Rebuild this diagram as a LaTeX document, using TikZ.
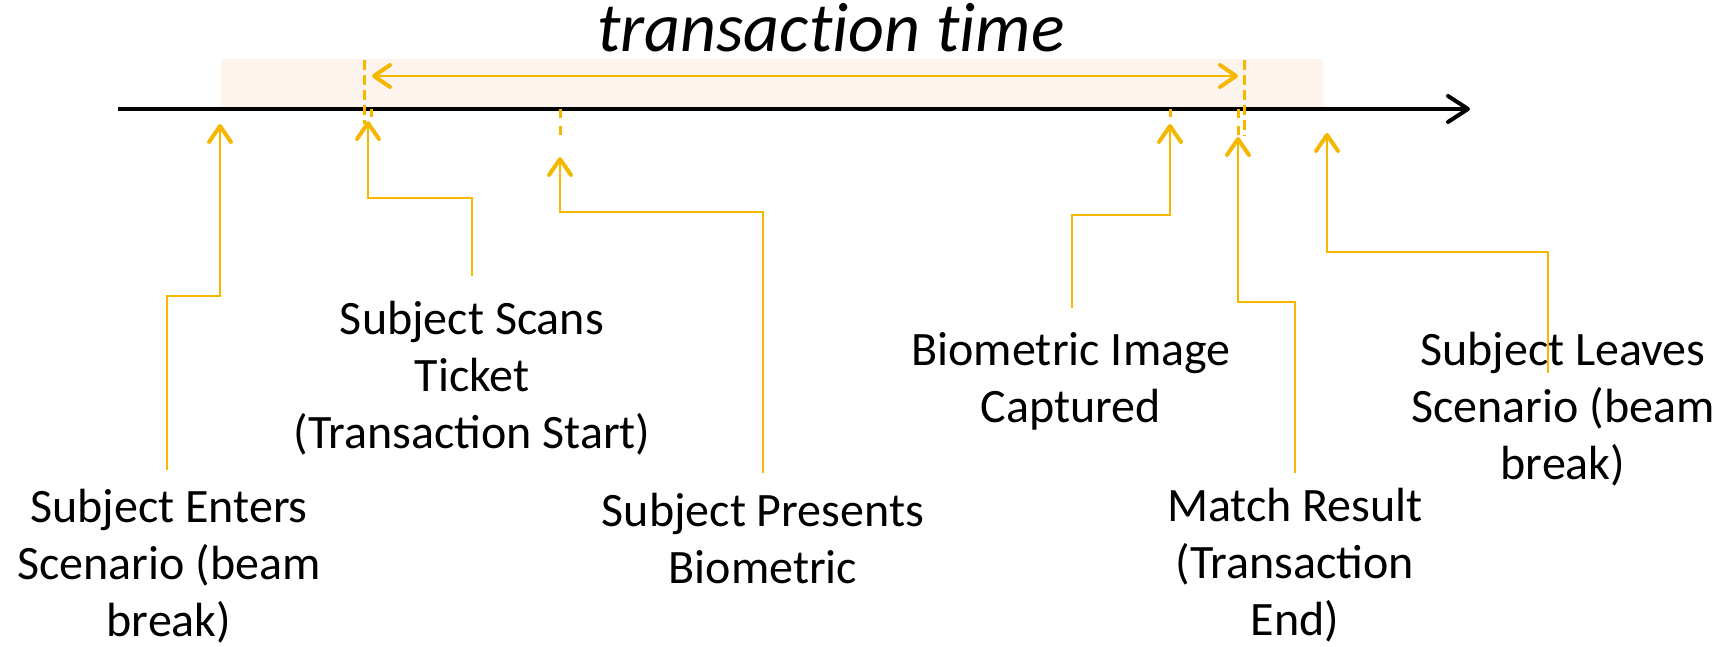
\documentclass[tikz,border=0pt]{standalone}
\usepackage{fontspec}
\setmainfont{Carlito}
\newfontfamily\titlefont{Carlito}[Ligatures=NoCommon]
\usetikzlibrary{arrows.meta}
\definecolor{gold}{RGB}{245,183,0}
\definecolor{peach}{RGB}{253,244,238}
\begin{document}
\begin{tikzpicture}[x=0.5pt,y=-0.5pt,
  conn/.style={draw=gold,line width=1pt,-{Straight Barb[length=8pt,width=11pt,line width=2pt,round]}},
  tick/.style={draw=gold,line width=1.5pt,dash pattern=on 4.5pt off 4pt},
  guide/.style={draw=gold,line width=1.5pt,dash pattern=on 5pt off 2.5pt},
  span/.style={draw=gold,line width=0.85pt,{Straight Barb[length=8pt,width=11pt,line width=2pt,round]}-{Straight Barb[length=8pt,width=11pt,line width=2pt,round]}},
  lbl/.style={align=center,font=\fontsize{24}{28.3}\selectfont,inner sep=0pt,anchor=base}]
\useasboundingbox (0,0) rectangle (1731,647);
\fill[peach] (221,59) rectangle (1323,109);
\node[font=\fontsize{35}{40}\titlefont\itshape,anchor=base,inner sep=0pt] (title) at (831,52) {transaction time};
% axis
\coordinate (a0) at (118,109);
\coordinate (a1) at (1470,109);
\draw[line width=1.75pt,-{Straight Barb[length=10pt,width=13pt,line width=2pt,round]}] (a0) -- (a1);
% transaction span
\coordinate (g1top) at (364,60);
\coordinate (g1bot) at (364,124);
\coordinate (g2top) at (1244,60);
\coordinate (g2bot) at (1244,136);
\draw[guide] (g1top) -- (g1bot);
\draw[guide] (g2top) -- (g2bot);
\coordinate (ts) at (372,76);
\coordinate (te) at (1238,76);
\draw[span] (ts) -- (te);
% ticks
\coordinate (k2a) at (371,109); \coordinate (k2b) at (371,117);
\coordinate (k3a) at (560,109); \coordinate (k3b) at (560,136);
\coordinate (k4a) at (1170,109); \coordinate (k4b) at (1170,117);
\coordinate (k5a) at (1238,109); \coordinate (k5b) at (1238,136);
\draw[tick] (k2a) -- (k2b);
\draw[tick] (k3a) -- (k3b);
\draw[tick] (k4a) -- (k4b);
\draw[tick] (k5a) -- (k5b);
% labels (anchor = baseline of last line)
\node[lbl] (enters) at (169,636) {Subject Enters\\Scenario (beam\\break)};
\node[lbl] (scans) at (472,448) {Subject Scans\\Ticket\\(Transaction Start)};
\node[lbl] (presents) at (763,583) {Subject Presents\\Biometric};
\node[lbl] (captured) at (1071,422) {Biometric Image\\Captured};
\node[lbl] (match) at (1295,635) {Match Result\\(Transaction\\End)};
\node[lbl] (leaves) at (1563,479) {Subject Leaves\\Scenario (beam\\break)};
% connectors
\coordinate (s1) at (167,470); \coordinate (t1) at (220,124);
\coordinate (s2) at (472,276); \coordinate (t2) at (368,121);
\coordinate (s3) at (763,473); \coordinate (t3) at (560,157);
\coordinate (s4) at (1072,308); \coordinate (t4) at (1170,124);
\coordinate (s5) at (1295,473); \coordinate (t5) at (1238,137);
\coordinate (s6) at (1548,373); \coordinate (t6) at (1327,133);
\draw[conn] (s1) -- ++(0,-174) -| (t1);
\draw[conn] (s2) -- ++(0,-78) -| (t2);
\draw[conn] (s3) -- ++(0,-261) -| (t3);
\draw[conn] (s4) -- ++(0,-93) -| (t4);
\draw[conn] (s5) -- ++(0,-171) -| (t5);
\draw[conn] (s6) -- ++(0,-121) -| (t6);
\end{tikzpicture}
\end{document}
